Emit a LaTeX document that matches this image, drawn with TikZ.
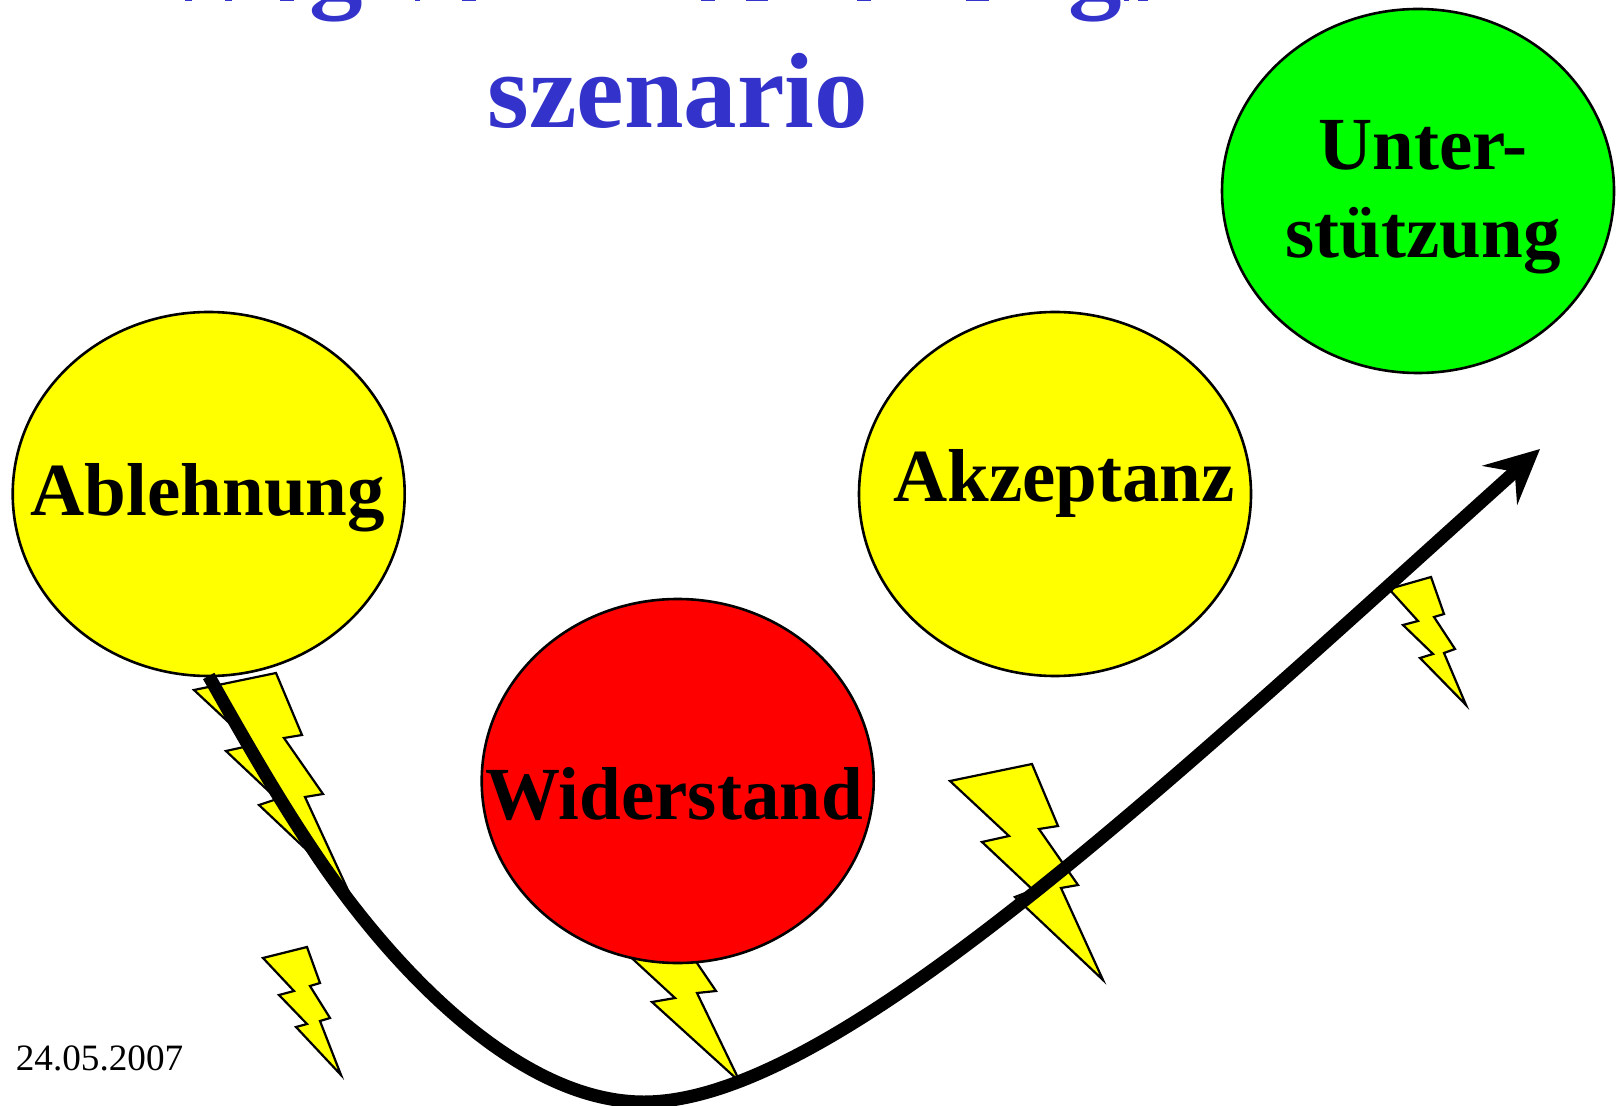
\documentclass[tikz,border=0pt]{standalone}
\usepackage{fontspec}
\setmainfont{Liberation Serif}
\usepackage{xcolor}
\usetikzlibrary{shapes.geometric,arrows.meta}
\definecolor{titleblue}{RGB}{51,51,204}
\definecolor{stategreen}{RGB}{0,255,0}
\definecolor{stateyellow}{RGB}{255,255,0}
\definecolor{statered}{RGB}{255,0,0}
\tikzset{
  state/.style={ellipse, draw, line width=1.3pt, minimum width=196pt, minimum height=182pt, inner sep=0pt, outer sep=0pt},
  statetext/.style={anchor=base, inner sep=0pt, font=\fontsize{37.5}{37.5}\selectfont\bfseries},
  titletext/.style={anchor=base, inner sep=0pt, text=titleblue, font=\fontsize{53.5}{53.5}\selectfont\bfseries},
  bolt/.style={draw, fill=stateyellow, line width=1.1pt},
}
\begin{document}
\begin{tikzpicture}[x=0.5pt,y=-0.5pt]

    \useasboundingbox (0,0) rectangle (1616,1106);
    \clip (0,0) rectangle (1616,1106);

    % Title
    \node[titletext] (gleft) at (336,-1) {g};
    \node[titletext] (gright) at (1095,-1) {g};
    \foreach \a/\b in {185/192,225/232,280/294,415/420,462/476,701/715,746/768,857/871,966/989,1124/1129,1138/1148} {
        \fill[titleblue] (\a,0) rectangle (\b,1.5);
    }
    \node[titletext] (szenario) at (678,128) {szenario};

    % Bolts
    \draw[bolt] (194,690) -- (276,673) -- (302,735) -- (284,738) -- (323,794) -- (305,797) -- (347,888)
      -- (259,805) -- (277,799) -- (226,751) -- (253,745) -- cycle;
    \draw[bolt] (950,781) -- (1032,764) -- (1058,826) -- (1039,829) -- (1078,885) -- (1061,888) -- (1103,980)
      -- (1015,897) -- (1033,890) -- (982,842) -- (1009,836) -- cycle;
    \draw[bolt] (610,938) -- (680,938) -- (716,991) -- (697,993) -- (740,1082)
      -- (652,1002) -- (675,998) -- cycle;
    \draw[bolt] (263,958) -- (307,947) -- (320,983) -- (310,986) -- (330,1018) -- (320,1021) -- (341,1075)
      -- (296,1027) -- (307,1024) -- (279,995) -- (294,991) -- cycle;
    \draw[bolt] (1389,589) -- (1431,577) -- (1444,614) -- (1434,617) -- (1455,649) -- (1444,653) -- (1466,705)
      -- (1420,658) -- (1433,654) -- (1403,625) -- (1418,621) -- cycle;

    % States
    \node[state, fill=stateyellow] (ablehnung) at (208.7,494) {};
    \node[state, fill=stateyellow] (akzeptanz) at (1055,494) {};
    \node[state, fill=statered] (widerstand) at (677.7,781) {};
    \node[state, fill=stategreen] (unterstuetzung) at (1418,191) {};

    \node[statetext] (ablehnungtext) at (208,516) {Ablehnung};
    \node[statetext] (akzeptanztext) at (1064,502) {Akzeptanz};
    \node[statetext] (widerstandtext) at (674,819) {Widerstand};
    \node[statetext] (untertext) at (1423,170) {Unter-};
    \node[statetext] (stuetzungtext) at (1423,258) {stützung};

    % Path
    \coordinate (tip) at (1540,449);
    \draw[-{Stealth[length=27pt,width=26pt,inset=10pt]}, line width=6.5pt] (ablehnung.south)
      .. controls (242,735) and (276,795) .. (313,850)
      .. controls (379,950) and (510,1102) .. (644,1102)
      .. controls (830,1102) and (1150,800) .. (tip);

    \node[anchor=base, inner sep=0pt, font=\fontsize{18.6}{18.6}\selectfont] (datum) at (99.5,1070) {24.05.2007};
\end{tikzpicture}
\end{document}
